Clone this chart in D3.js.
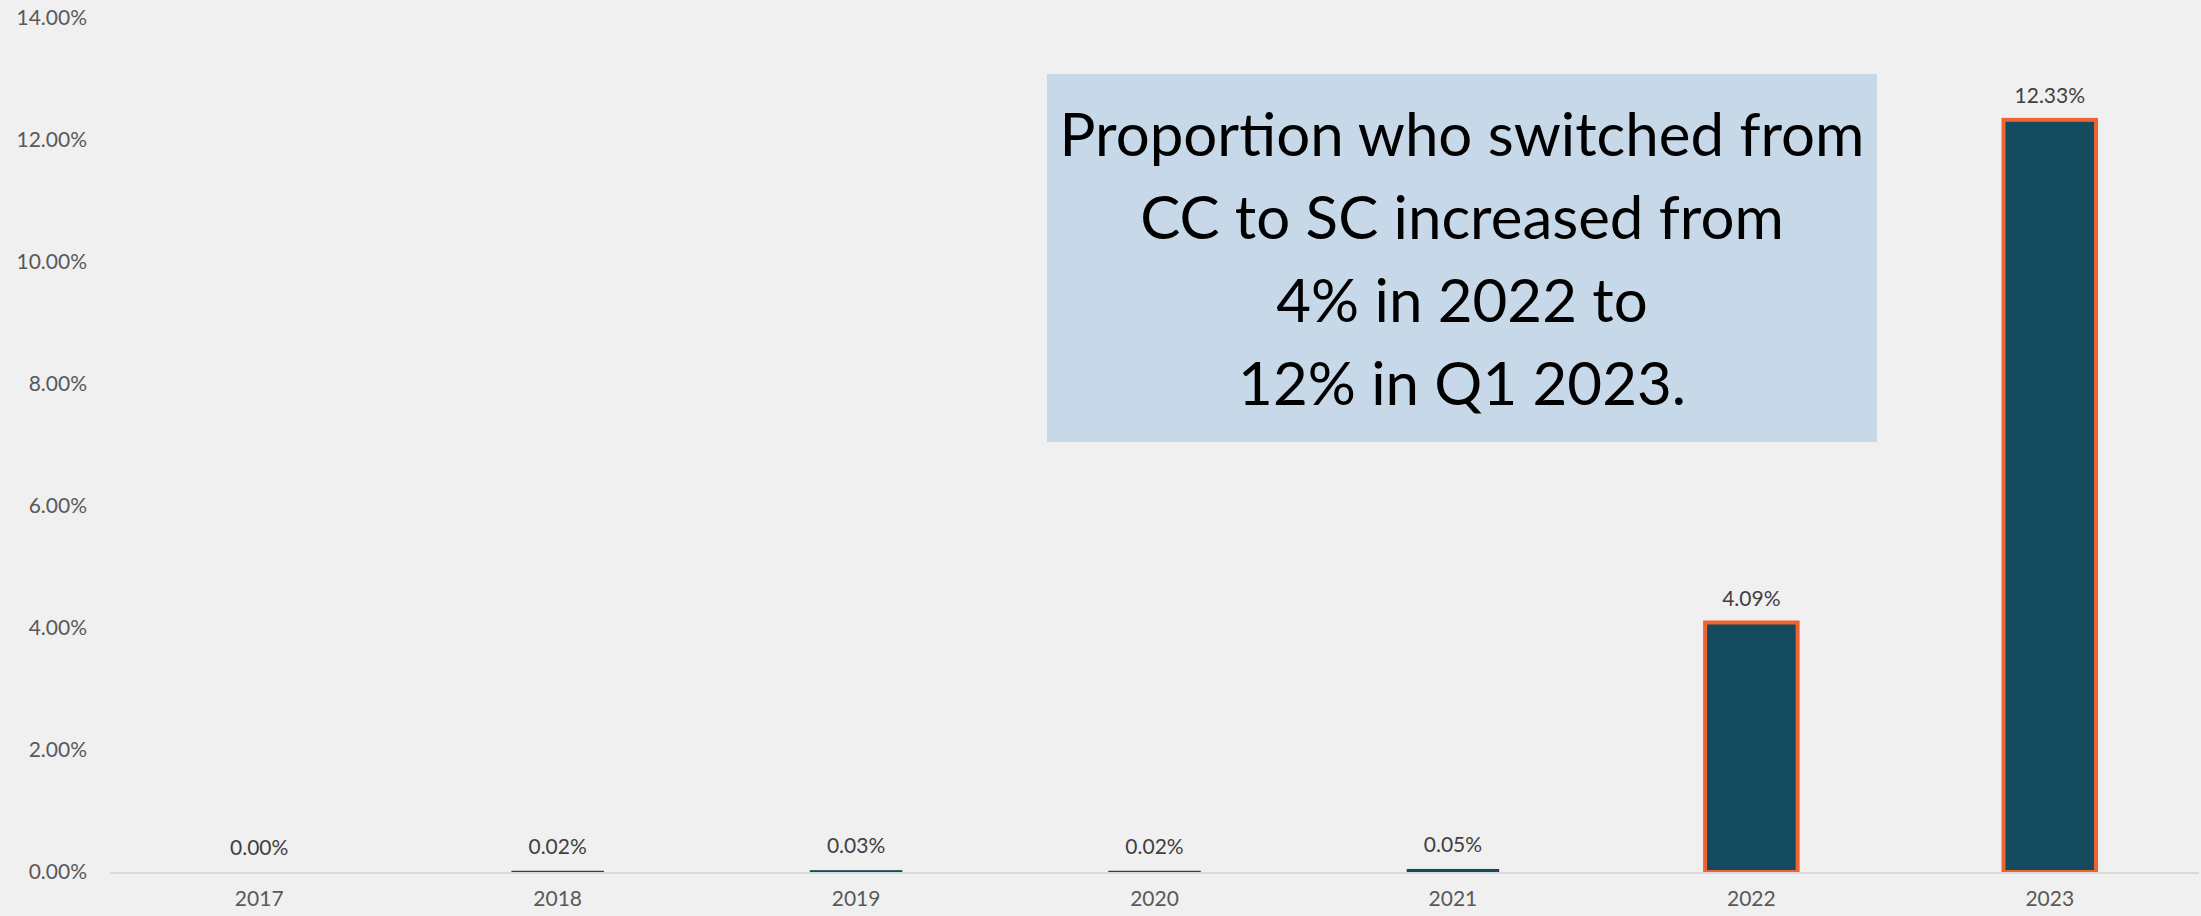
<!DOCTYPE html>
<html>
<head>
<meta charset="utf-8">
<script src="https://cdn.jsdelivr.net/npm/d3@7"></script>
<style>
  body { margin: 0; background: #f0f0f0; }
  svg { display: block; font-family: Lato, "Open Sans", sans-serif; }
</style>
</head>
<body>
<div class="chart"></div>
<script>
// data
var years = ["2017", "2018", "2019", "2020", "2021", "2022", "2023"]
var shares = [0.0000, 0.0002, 0.0003, 0.0002, 0.0005, 0.0409, 0.1233]
var highlighted = ["2022", "2023"]
var yTicks = [0, 0.02, 0.04, 0.06, 0.08, 0.10, 0.12, 0.14]
var noteLines = ["Proportion who switched from", "CC to SC increased from", "4% in 2022 to", "12% in Q1 2023."]

var W = 2201, H = 916
var margin = { top: 18, right: 2, bottom: 44, left: 110 }

var svg = d3.select(".chart")
    .append("svg")
    .attr("width", W)
    .attr("height", H)

svg.append("rect")
    .attr("width", W)
    .attr("height", H)
    .attr("fill", "#f0f0f0")

var x = d3.scaleBand()
    .domain(years)
    .range([margin.left, W - margin.right])
    .paddingInner(0.69)
    .paddingOuter(0.345)

var y = d3.scaleLinear()
    .domain([0, 0.14])
    .range([H - margin.bottom, margin.top])

// y axis labels, no line
svg.append("g")
    .attr("transform", "translate(87,0)")
    .call(d3.axisLeft(y).tickValues(yTicks).tickFormat(d3.format(".2%")).tickSize(0).tickPadding(0))
    .call(g => g.select(".domain").remove())
    .selectAll("text")
    .style("font-size", "21px")
    .style("font-family", "Lato, sans-serif")
    .attr("fill", "#595959")

// bars
svg.selectAll(".bar")
    .data(years)
    .join("rect")
    .attr("class", "bar")
    .attr("x", d => x(d))
    .attr("width", x.bandwidth())
    .attr("y", (d, i) => y(shares[i]))
    .attr("height", (d, i) => y(0) - y(shares[i]))
    .attr("fill", "#134a5e")
    .attr("stroke", d => highlighted.includes(d) ? "#f26230" : "none")
    .attr("stroke-width", 4)

// x axis line
svg.append("line")
    .attr("x1", margin.left)
    .attr("x2", W - margin.right)
    .attr("y1", y(0) + 1)
    .attr("y2", y(0) + 1)
    .attr("stroke", "#d9d9d9")
    .attr("stroke-width", 2)

// x labels
svg.append("g")
    .attr("transform", "translate(0," + (y(0) + 1) + ")")
    .call(d3.axisBottom(x).tickSize(0).tickPadding(18))
    .call(g => g.select(".domain").remove())
    .selectAll("text")
    .style("font-size", "21px")
    .style("font-family", "Lato, sans-serif")
    .attr("fill", "#595959")

// data labels
svg.selectAll(".lbl")
    .data(years)
    .join("text")
    .attr("class", "lbl")
    .attr("x", d => x(d) + x.bandwidth() / 2)
    .attr("y", (d, i) => y(shares[i]) - 17)
    .attr("text-anchor", "middle")
    .style("font-size", "21px")
    .attr("fill", "#404040")
    .text((d, i) => d3.format(".2%")(shares[i]))

// annotation box
var box = svg.append("g")
box.append("rect")
    .attr("x", 1047)
    .attr("y", 74)
    .attr("width", 830)
    .attr("height", 368)
    .attr("fill", "#c7d9e9")

box.selectAll("text")
    .data(noteLines)
    .join("text")
    .attr("x", 1047 + 830 / 2)
    .attr("y", (d, i) => 156 + i * 83)
    .attr("text-anchor", "middle")
    .style("font-size", "60px")
    .attr("fill", "#000")
    .text(d => d)
</script>
</body>
</html>
